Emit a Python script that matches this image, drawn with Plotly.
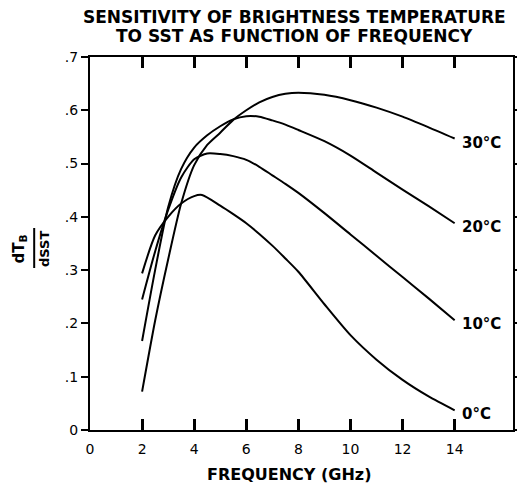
import plotly.graph_objects as go

# ---- data ----
freq_0 = [2.0, 2.5, 3.0, 3.5, 4.0, 4.3, 5.0, 5.5, 6.0, 6.5, 7.0, 7.5, 8.0, 9.0, 10.0, 11.0, 12.0, 13.0, 14.0]
sens_0 = [0.294, 0.365, 0.400, 0.425, 0.439, 0.441, 0.421, 0.405, 0.388, 0.368, 0.346, 0.322, 0.297, 0.236, 0.178, 0.132, 0.094, 0.063, 0.037]

freq_10 = [2.0, 2.5, 3.0, 3.5, 4.0, 4.5, 5.0, 5.5, 6.0, 6.5, 7.0, 7.5, 8.0, 9.0, 10.0, 11.0, 12.0, 13.0, 14.0]
sens_10 = [0.245, 0.335, 0.413, 0.474, 0.508, 0.519, 0.518, 0.514, 0.507, 0.494, 0.478, 0.462, 0.445, 0.407, 0.367, 0.327, 0.287, 0.247, 0.206]

freq_20 = [2.0, 2.5, 3.0, 3.5, 4.0, 4.5, 5.0, 5.5, 6.0, 6.5, 7.0, 7.5, 8.0, 9.0, 10.0, 11.0, 12.0, 13.0, 14.0]
sens_20 = [0.167, 0.300, 0.418, 0.490, 0.530, 0.553, 0.570, 0.583, 0.589, 0.588, 0.581, 0.573, 0.563, 0.542, 0.515, 0.483, 0.451, 0.420, 0.388]

freq_30 = [2.0, 2.5, 3.0, 3.5, 4.0, 4.5, 5.0, 5.5, 6.0, 6.5, 7.0, 7.5, 8.0, 9.0, 10.0, 11.0, 12.0, 13.0, 14.0]
sens_30 = [0.072, 0.205, 0.320, 0.425, 0.497, 0.535, 0.558, 0.582, 0.600, 0.615, 0.625, 0.631, 0.633, 0.629, 0.619, 0.605, 0.588, 0.568, 0.547]

series_labels = ["0°C", "10°C", "20°C", "30°C"]

x_tickvals = [0, 2, 4, 6, 8, 10, 12, 14]
x_ticktext = ["0", "2", "4", "6", "8", "10", "12", "14"]
y_tickvals = [0, 0.1, 0.2, 0.3, 0.4, 0.5, 0.6, 0.7]
y_ticktext = ["0", ".1", ".2", ".3", ".4", ".5", ".6", ".7"]

title_lines = ["SENSITIVITY OF BRIGHTNESS TEMPERATURE", "TO SST AS FUNCTION OF FREQUENCY"]
x_title = "FREQUENCY (GHz)"

FONT = "DejaVu Sans"
fig = go.Figure()

series = [(freq_0, sens_0), (freq_10, sens_10), (freq_20, sens_20), (freq_30, sens_30)]
for (fx, fy), lab in zip(series, series_labels):
    fig.add_trace(go.Scatter(x=fx, y=fy, mode="lines", name=lab,
                             line=dict(color="black", width=2, shape="spline", smoothing=0.7),
                             showlegend=False, hoverinfo="skip"))
    fig.add_annotation(x=fx[-1], y=fy[-1], text="<b>" + lab + "</b>", showarrow=False,
                       xanchor="left", yanchor="middle", xshift=5, yshift=-4,
                       font=dict(family=FONT, size=15, color="black"))

fig.update_layout(
    xaxis=dict(range=[0, 16.24], tickmode="array", tickvals=x_tickvals, ticktext=x_ticktext,
               showline=True, linecolor="black", linewidth=2, mirror="ticks",
               ticks="inside", ticklen=11, tickwidth=3, tickcolor="#000000",
               showgrid=False, zeroline=False, ticklabelstandoff=5,
               tickfont=dict(family=FONT, size=14, color="black")),
    yaxis=dict(range=[0, 0.7], tickmode="array", tickvals=y_tickvals, ticktext=y_ticktext,
               showline=True, linecolor="black", linewidth=2, mirror="ticks",
               ticks="outside", ticklen=7, tickwidth=2, tickcolor="#000000",
               showgrid=False, zeroline=False,
               tickfont=dict(family=FONT, size=14, color="black")),
)

# titles (page is offset 8px by the body margin; margins compensate)
fig.add_annotation(xref="paper", yref="paper", x=0.484, y=1.0, yshift=40,
                   text="<b>" + title_lines[0] + "</b>", showarrow=False,
                   xanchor="center", yanchor="middle",
                   font=dict(family=FONT, size=17, color="black"))
fig.add_annotation(xref="paper", yref="paper", x=0.484, y=1.0, yshift=21,
                   text="<b>" + title_lines[1] + "</b>", showarrow=False,
                   xanchor="center", yanchor="middle",
                   font=dict(family=FONT, size=17, color="black"))
fig.add_annotation(xref="paper", yref="paper", x=0.47, y=0.0, yshift=-44,
                   text="<b>" + x_title + "</b>", showarrow=False,
                   xanchor="center", yanchor="middle",
                   font=dict(family=FONT, size=16, color="black"))

# y-axis fraction label
PW = 432.0
PH = 373.0
def px2x(px):
    return (px - 90) / PW
def py2y(py):
    return (430 - py) / PH

fig.add_annotation(xref="paper", yref="paper", x=px2x(17), y=py2y(249),
                   text="<b>dT<sub>B</sub></b>", showarrow=False, textangle=-90,
                   xanchor="center", yanchor="middle",
                   font=dict(family=FONT, size=15, color="black"))
fig.add_annotation(xref="paper", yref="paper", x=px2x(43), y=py2y(249),
                   text="<b>dSST</b>", showarrow=False, textangle=-90,
                   xanchor="center", yanchor="middle",
                   font=dict(family=FONT, size=13, color="black"))
fig.add_shape(type="line", xref="paper", yref="paper",
              x0=px2x(33), x1=px2x(33), y0=py2y(228), y1=py2y(268),
              line=dict(color="black", width=2))

fig.update_layout(width=525, height=485,
                  margin=dict(l=82, r=11, t=49, b=63),
                  plot_bgcolor="white", paper_bgcolor="white",
                  font=dict(family=FONT, color="black"))

fig.write_html("out.html")
